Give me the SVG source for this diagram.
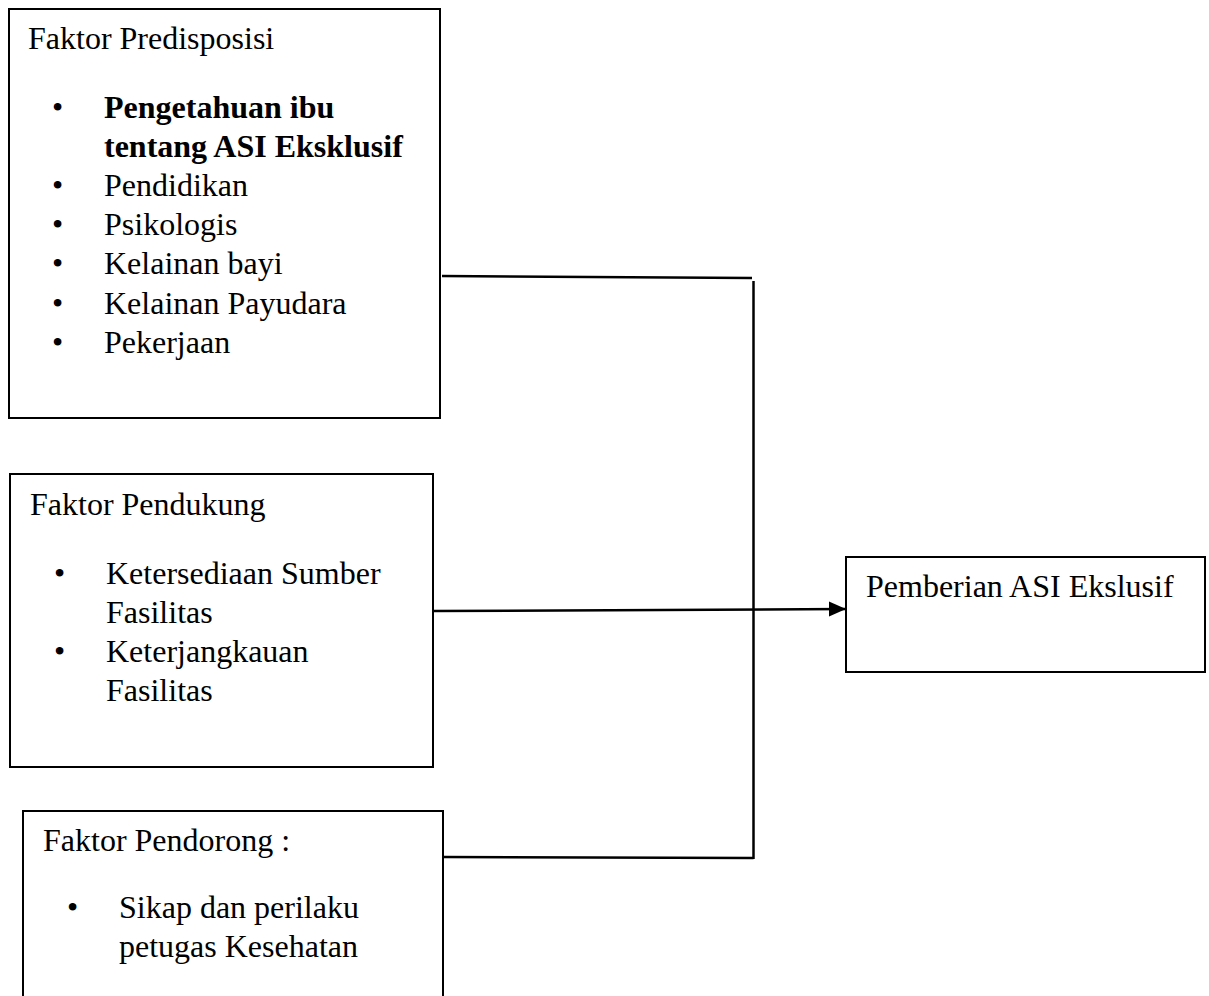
<svg xmlns="http://www.w3.org/2000/svg" width="1209" height="996" viewBox="0 0 1209 996">
<style>
.box{fill:#fff;stroke:#000;stroke-width:2}
.t{font-family:"Liberation Serif","Times New Roman",serif;font-size:32px;fill:#000}
.b{font-weight:bold}
.ln{fill:none;stroke:#000;stroke-width:2.5}
</style>
<defs>
<marker id="arr" markerWidth="17" markerHeight="16" refX="17" refY="8" orient="auto" markerUnits="userSpaceOnUse">
<path d="M0,0.5 L17,8 L0,15.5 Z" fill="#000"/>
</marker>
</defs>
<rect width="1209" height="996" fill="#fff"/>
<g id="predisposisi">
<rect class="box" x="9" y="9" width="431" height="409"/>
<text class="t" x="28" y="49">Faktor Predisposisi</text>
<text class="t" x="52" y="118">•</text><text class="t b" x="104" y="118">Pengetahuan ibu</text>
<text class="t b" x="104" y="157">tentang ASI Eksklusif</text>
<text class="t" x="52" y="196">•</text><text class="t" x="104" y="196">Pendidikan</text>
<text class="t" x="52" y="235">•</text><text class="t" x="104" y="235">Psikologis</text>
<text class="t" x="52" y="274">•</text><text class="t" x="104" y="274">Kelainan bayi</text>
<text class="t" x="52" y="314">•</text><text class="t" x="104" y="314">Kelainan Payudara</text>
<text class="t" x="52" y="353">•</text><text class="t" x="104" y="353">Pekerjaan</text>
</g>
<g id="pendukung">
<rect class="box" x="10" y="474" width="423" height="293"/>
<text class="t" x="30" y="515">Faktor Pendukung</text>
<text class="t" x="54" y="584">•</text><text class="t" x="106" y="584">Ketersediaan Sumber</text>
<text class="t" x="106" y="623">Fasilitas</text>
<text class="t" x="54" y="662">•</text><text class="t" x="106" y="662">Keterjangkauan</text>
<text class="t" x="106" y="701">Fasilitas</text>
</g>
<g id="pendorong">
<rect class="box" x="23" y="811" width="420" height="200"/>
<text class="t" x="43" y="851">Faktor Pendorong :</text>
<text class="t" x="67" y="918">•</text><text class="t" x="119" y="918">Sikap dan perilaku</text>
<text class="t" x="119" y="957">petugas Kesehatan</text>
</g>
<g id="pemberian">
<rect class="box" x="846" y="557" width="359" height="115"/>
<text class="t" x="866" y="597">Pemberian ASI Ekslusif</text>
</g>
<g id="connectors">
<path class="ln" d="M442,276 L752,278"/>
<path class="ln" d="M753.5,281 L753.5,859"/>
<path class="ln" d="M444,857 L753.5,858"/>
<path class="ln" d="M433,611 L846,609" marker-end="url(#arr)"/>
</g>
</svg>
